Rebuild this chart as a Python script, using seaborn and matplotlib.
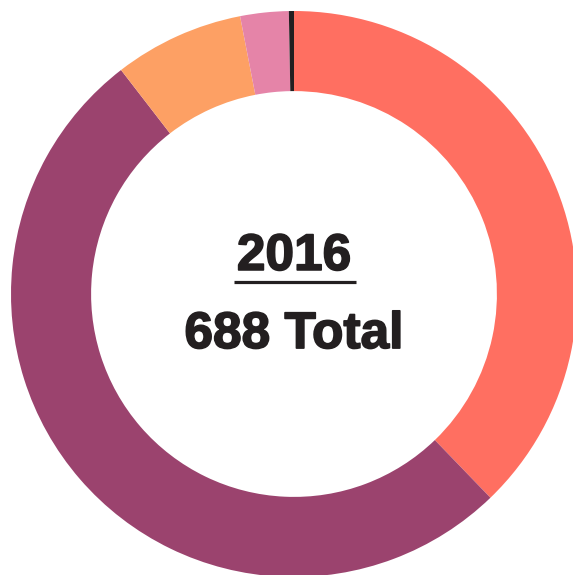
import matplotlib
matplotlib.use('Agg')
import matplotlib.pyplot as plt
import matplotlib.patheffects as pe
import seaborn as sns

sns.set_theme(style='white')

# data (clockwise from 12 o'clock)
categories = ['A', 'B', 'C', 'D', 'E']
counts = [260, 356, 51, 19, 2]
colors = ['#FF6F61', '#9B436E', '#FDA064', '#E584A8', '#231F20']
year_label = '2016'
total = sum(counts)

fig = plt.figure(figsize=(5.73, 5.75), dpi=100)
ax = fig.add_axes([11 / 573, -2 / 575, 566 / 573, 566 / 575])

ax.pie(counts, colors=colors, startangle=90, counterclock=False, radius=1,
       wedgeprops=dict(width=0.283, edgecolor='none', linewidth=0))
ax.set_xlim(-1, 1)
ax.set_ylim(-1, 1)
ax.set_aspect('equal')
ax.axis('off')

font = ['Liberation Sans', 'DejaVu Sans']
heavy = [pe.withStroke(linewidth=1.2, foreground='#231F20')]
ax.text(0, 0.085, year_label, ha='center', va='baseline', fontsize=37,
        fontweight='bold', color='#231F20', family=font, path_effects=heavy)
# underline of the year
ax.plot([-0.212, 0.219], [0.044, 0.044], color='#231F20', lw=2.3,
        solid_capstyle='butt')
ax.text(0, -0.191, f'{total} Total', ha='center', va='baseline', fontsize=37,
        fontweight='bold', color='#231F20', family=font, path_effects=heavy)

plt.savefig('out.png', dpi=100)
plt.close()
